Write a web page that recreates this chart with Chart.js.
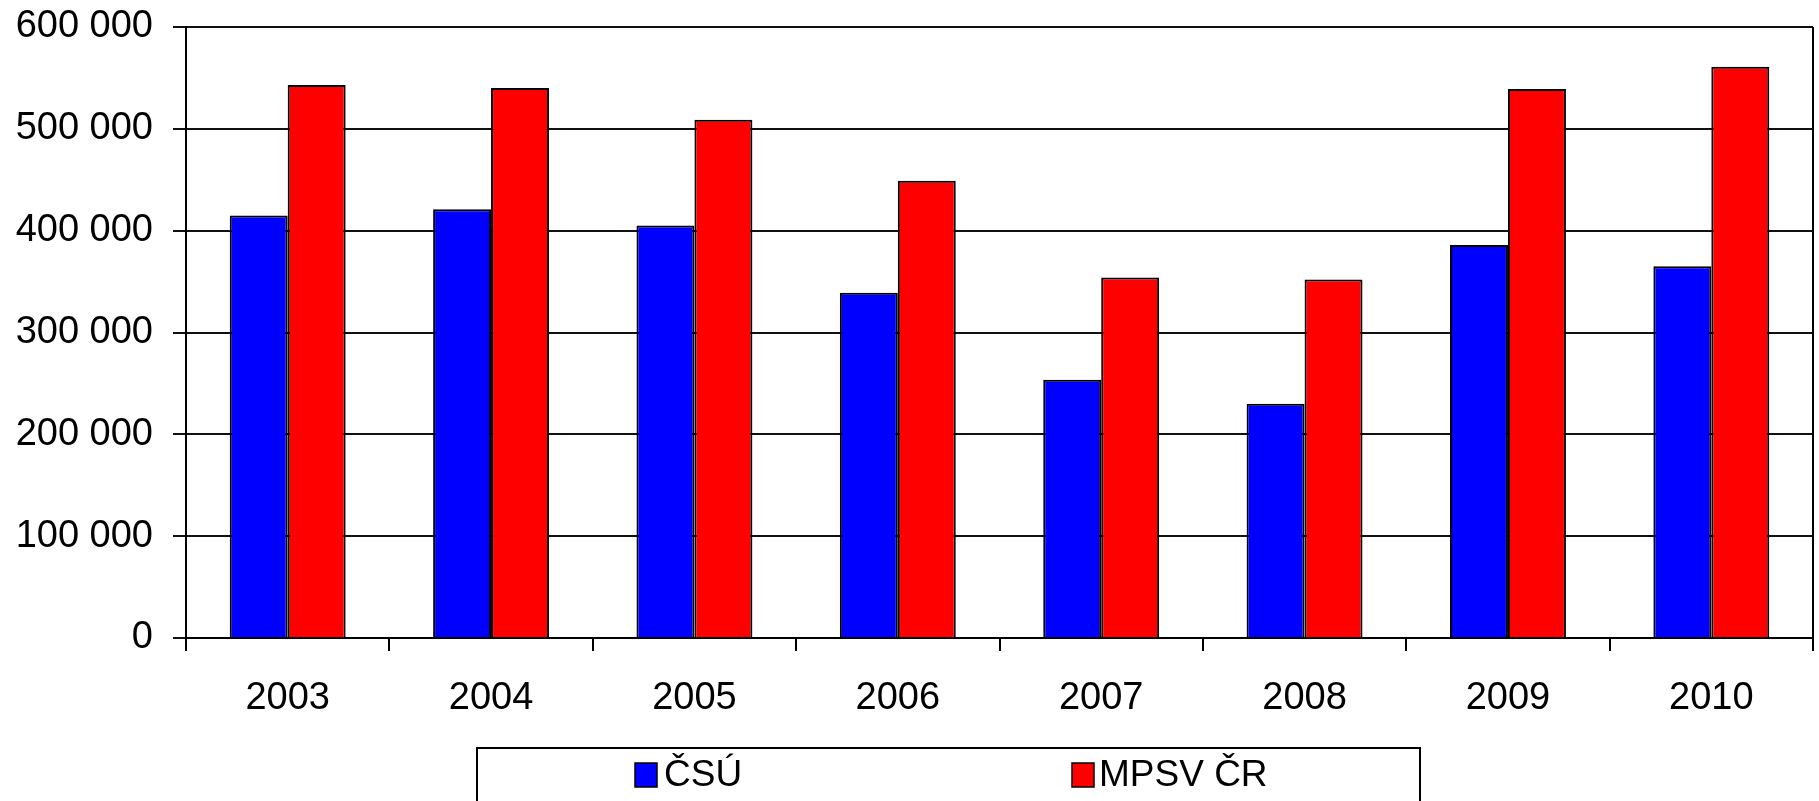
<!DOCTYPE html>
<html>
<head>
<meta charset="utf-8">
<script src="https://cdn.jsdelivr.net/npm/chart.js@4.4.0/dist/chart.umd.min.js"></script>
<style>
    html, body { margin: 0; padding: 0; background: #fff; }
    #wrap { width: 1819px; height: 801px; }
</style>
</head>
<body>
<div id="wrap"><canvas id="chart" width="1819" height="801"></canvas></div>
<script>
// Chart data
const years = ['2003', '2004', '2005', '2006', '2007', '2008', '2009', '2010'];
const csuValues = [415000, 421000, 405000, 339000, 253500, 230000, 386000, 365000];
const mpsvValues = [543000, 540000, 509000, 449000, 354000, 352000, 539000, 561000];
const seriesNames = ['ČSÚ', 'MPSV ČR'];
const yTicks = [0, 100000, 200000, 300000, 400000, 500000, 600000];

const FONT = '"Liberation Sans", Arial, sans-serif';

const fmt = v => String(v).replace(/\B(?=(\d{3})+(?!\d))/g, ' ');

// Frame on the right side of the plot + boxed legend below
const framePlugin = {
    id: 'frame',
    afterDraw(chart) {
        const ctx = chart.ctx;
        const a = chart.chartArea;
        ctx.save();
        ctx.strokeStyle = '#000';
        ctx.lineWidth = 2;
        ctx.beginPath();
        ctx.moveTo(a.right, a.top);
        ctx.lineTo(a.right, a.bottom);
        ctx.stroke();

        // legend box
        ctx.lineWidth = 2;
        ctx.strokeRect(477, 748, 943, 70);
        const items = [[635, 664], [1072, 1099]];
        ctx.font = '37px ' + FONT;
        ctx.textBaseline = 'middle';
        chart.data.datasets.forEach((ds, i) => {
            const [bx, tx] = items[i];
            ctx.fillStyle = ds.backgroundColor;
            ctx.fillRect(bx, 763, 22, 24);
            ctx.strokeStyle = '#000';
            ctx.lineWidth = 1.5;
            ctx.strokeRect(bx, 763, 22, 24);
            ctx.fillStyle = '#000';
            ctx.fillText(ds.label, tx, 776);
        });
        ctx.restore();
    }
};

new Chart(document.getElementById('chart'), {
    type: 'bar',
    data: {
        labels: years,
        datasets: [{
            label: seriesNames[0],
            data: csuValues,
            backgroundColor: '#0000ff',
            borderColor: '#000',
            borderWidth: 2,
            categoryPercentage: 0.57,
            barPercentage: 1.0
        }, {
            label: seriesNames[1],
            data: mpsvValues,
            backgroundColor: '#ff0000',
            borderColor: '#000',
            borderWidth: 2,
            categoryPercentage: 0.57,
            barPercentage: 1.0
        }]
    },
    options: {
        responsive: false,
        animation: false,
        layout: { padding: { top: 27, right: 6, bottom: 0, left: 0 } },
        plugins: {
            legend: { display: false },
            tooltip: { enabled: false }
        },
        scales: {
            x: {
                grid: {
                    offset: true,
                    drawOnChartArea: false,
                    tickLength: 13,
                    color: '#000',
                    lineWidth: 2
                },
                border: { color: '#000', width: 2 },
                ticks: {
                    color: '#000',
                    padding: 25,
                    font: { family: FONT, size: 38 }
                },
                afterFit(scale) { scale.height = 163; }
            },
            y: {
                min: 0,
                max: 600000,
                afterBuildTicks(scale) {
                    scale.ticks = yTicks.map(v => ({ value: v }));
                },
                grid: {
                    color: '#111',
                    lineWidth: 2,
                    tickLength: 13
                },
                border: { color: '#000', width: 2 },
                ticks: {
                    color: '#000',
                    padding: 20,
                    font: { family: FONT, size: 38 },
                    callback: v => fmt(v)
                },
                afterFit(scale) {
                    scale.width = 186;
                    scale.paddingTop = 0;
                    scale.paddingBottom = 0;
                }
            }
        }
    },
    plugins: [framePlugin]
});
</script>
</body>
</html>
